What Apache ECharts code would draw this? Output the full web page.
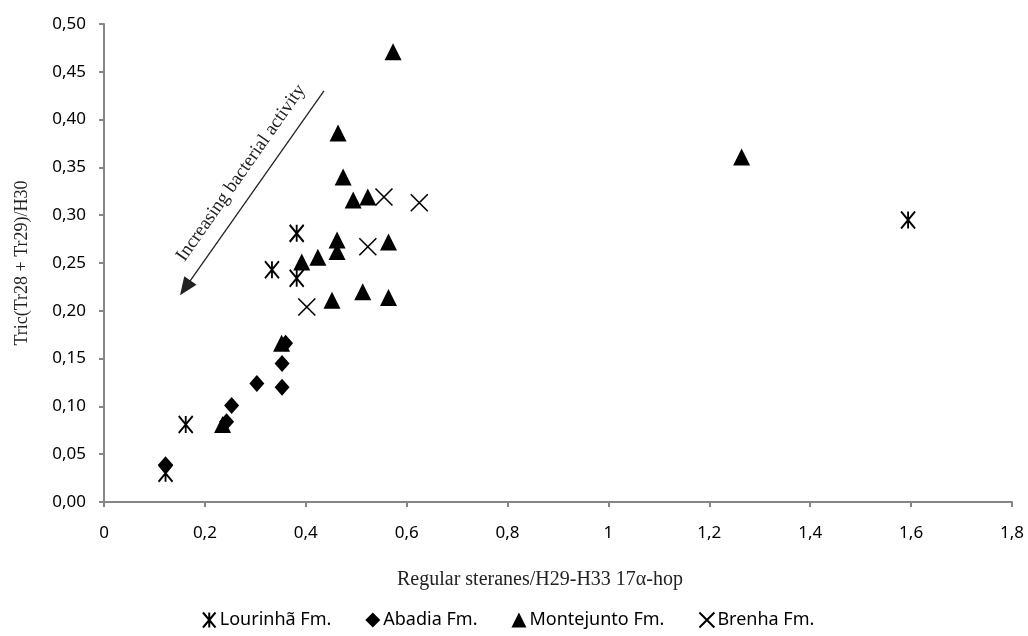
<!DOCTYPE html>
<html>
<head>
<meta charset="utf-8">
<script src="https://cdn.jsdelivr.net/npm/echarts@6/dist/echarts.min.js"></script>
<style>
  html, body { margin: 0; padding: 0; background: #fff; }
  #chart { width: 1028px; height: 636px; }
</style>
</head>
<body>
<div id="chart"></div>
<script>
// values: [regular steranes/hopanes, tricyclics/H30]
const lourinha = [[0.122, 0.030], [0.162, 0.081], [0.333, 0.243], [0.382, 0.234], [0.382, 0.281], [1.594, 0.295]];
const abadia = [[0.122, 0.039], [0.243, 0.084], [0.253, 0.101], [0.303, 0.124], [0.353, 0.120], [0.353, 0.145], [0.360, 0.166]];
const montejunto = [
  [0.235, 0.081], [0.352, 0.166], [0.392, 0.251], [0.424, 0.256], [0.462, 0.274], [0.462, 0.262],
  [0.564, 0.272], [0.452, 0.211], [0.513, 0.220], [0.564, 0.214], [0.494, 0.316], [0.523, 0.319],
  [0.474, 0.340], [0.464, 0.386], [0.573, 0.471], [1.264, 0.361]
];
const brenha = [[0.555, 0.319], [0.625, 0.313], [0.523, 0.267], [0.402, 0.204]];
// arrow annotation (data coords)
const arrowFrom = [0.436, 0.430];
const arrowTo = [0.161, 0.224];

const asteriskPath = 'path://M0,0L10,12M10,0L0,12M5,0L5,12';
const crossPath = 'path://M0,0L10,10M10,0L0,10';

const chart = echarts.init(document.getElementById('chart'));

const axisLine = { lineStyle: { color: '#868686', width: 2 } };
const sans = 'Noto Sans';
const serif = 'Liberation Serif';

const option = {
  animation: false,
  grid: { left: 104, right: 16, top: 24, bottom: 134 },
  xAxis: {
    type: 'value',
    min: 0, max: 1.8, interval: 0.2,
    name: 'Regular steranes/H29-H33 17α-hop',
    nameLocation: 'middle',
    nameGap: 68,
    nameTextStyle: { fontFamily: serif, fontSize: 20, color: '#222', padding: [0, 36, 0, 0] },
    axisLine: axisLine,
    axisTick: { show: true, length: 5, lineStyle: { color: '#868686', width: 2 } },
    splitLine: { show: false },
    axisLabel: {
      margin: 23, fontFamily: sans, fontSize: 17, color: '#000',
      formatter: v => String(Math.round(v * 10) / 10).replace('.', ',')
    }
  },
  yAxis: {
    type: 'value',
    min: 0, max: 0.5, interval: 0.05,
    name: 'Tric(Tr28 + Tr29)/H30',
    nameLocation: 'middle',
    nameGap: 73,
    nameTextStyle: { fontFamily: serif, fontSize: 18, color: '#222' },
    axisLine: axisLine,
    axisTick: { show: true, length: 5, lineStyle: { color: '#868686', width: 2 } },
    splitLine: { show: false },
    axisLabel: {
      margin: 18, fontFamily: sans, fontSize: 17, color: '#000',
      formatter: v => v.toFixed(2).replace('.', ',')
    }
  },
  legend: {
    left: 197,
    bottom: 2,
    itemGap: 34,
    itemWidth: 15,
    itemHeight: 15,
    textStyle: { fontFamily: sans, fontSize: 18, color: '#000', padding: [0, 0, 0, -2] },
    data: ['Lourinhã Fm.', 'Abadia Fm.', 'Montejunto Fm.', 'Brenha Fm.']
  },
  graphic: [{
    type: 'text',
    x: 241, y: 173,
    rotation: 55 * Math.PI / 180,
    style: {
      text: 'Increasing bacterial activity',
      font: '19px "Liberation Serif"',
      fill: '#222',
      align: 'center',
      verticalAlign: 'middle'
    }
  }],
  series: [
    {
      name: 'Lourinhã Fm.',
      type: 'scatter',
      data: lourinha,
      symbol: asteriskPath,
      symbolSize: [14, 17],
      itemStyle: { color: 'rgba(0,0,0,0)', borderColor: '#000', borderWidth: 2, opacity: 1 },
      z: 4
    },
    {
      name: 'Abadia Fm.',
      type: 'scatter',
      data: abadia,
      symbol: 'diamond',
      symbolSize: [15, 17],
      itemStyle: { color: '#000', opacity: 1 },
      z: 3
    },
    {
      name: 'Montejunto Fm.',
      type: 'scatter',
      data: montejunto,
      symbol: 'triangle',
      symbolSize: [17, 17],
      itemStyle: { color: '#000', opacity: 1 },
      z: 3,
      markLine: {
        silent: true,
        symbol: ['none', 'triangle'],
        symbolSize: [15, 18],
        label: { show: false },
        lineStyle: { color: '#222', width: 1.3, type: 'solid', opacity: 1 },
        itemStyle: { color: '#222' },
        data: [[{ coord: arrowFrom }, { coord: arrowTo }]]
      }
    },
    {
      name: 'Brenha Fm.',
      type: 'scatter',
      data: brenha,
      symbol: crossPath,
      symbolSize: [17, 17],
      itemStyle: { color: 'rgba(0,0,0,0)', borderColor: '#000', borderWidth: 1.6, opacity: 1 },
      z: 4
    }
  ]
};

chart.setOption(option);
</script>
</body>
</html>
